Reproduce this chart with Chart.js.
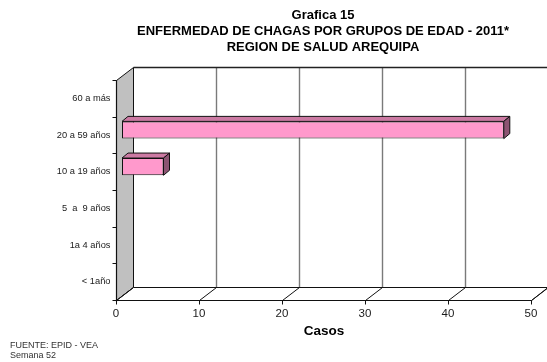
<!DOCTYPE html>
<html>
<head>
<meta charset="utf-8">
<title>Grafica 15</title>
<script src="https://cdn.jsdelivr.net/npm/chart.js@4"></script>
<style>
  html, body { margin:0; padding:0; background:#fff; }
  canvas { display:block; }
</style>
</head>
<body>
<canvas id="chart" width="547" height="362"></canvas>
<script>
/* ==== Data ==== */
const GROUPS = ['60 a más', '20 a 59 años', '10 a 19 años', '5  a  9 años', '1a 4 años', '< 1año'];
const CASES = [0, 46, 5, 0, 0, 0];
const X_TICKS = [0, 10, 20, 30, 40, 50];
const TITLE_LINES = ['Grafica 15', 'ENFERMEDAD DE CHAGAS POR GRUPOS DE EDAD - 2011*', 'REGION DE SALUD AREQUIPA'];
const X_TITLE = 'Casos';
const NOTES = ['FUENTE: EPID - VEA', 'Semana 52'];

/* ==== 3D look ==== */
const FONT = "'Liberation Sans', Arial, sans-serif";
const BACK = { dx: 11, dy: -8 };   // back wall relative to the bar plane
const FRONT = { dx: -6, dy: 5 };   // front axis relative to the bar plane
const BAR_DEPTH = { dx: 6, dy: -5 };
const BAR_FRONT = '#ff99cc', BAR_TOP = '#cc7aa3', BAR_SIDE = '#8c5472';

function poly(ctx, pts, fill, stroke){
  ctx.beginPath();
  ctx.moveTo(pts[0][0], pts[0][1]);
  for(let i=1;i<pts.length;i++) ctx.lineTo(pts[i][0], pts[i][1]);
  ctx.closePath();
  if(fill){ ctx.fillStyle = fill; ctx.fill(); }
  if(stroke){ ctx.strokeStyle = stroke; ctx.lineWidth = 1; ctx.stroke(); }
}
function line(ctx, x1, y1, x2, y2, color, w){
  ctx.beginPath(); ctx.moveTo(x1, y1); ctx.lineTo(x2, y2);
  ctx.strokeStyle = color; ctx.lineWidth = w || 1; ctx.stroke();
}

const box3d = {
  id: 'box3d',
  beforeDatasetsDraw(chart){
    const ctx = chart.ctx, ca = chart.chartArea, xs = chart.scales.x;
    const bl = ca.left + BACK.dx + 0.5, br = ca.right + BACK.dx, bt = ca.top + BACK.dy + 0.5, bb = ca.bottom + BACK.dy + 0.5;
    const fl = ca.left + FRONT.dx + 0.5, fr = ca.right + FRONT.dx + 0.5, ft = ca.top + FRONT.dy + 0.5, fb = ca.bottom + FRONT.dy + 0.5;
    ctx.save();

    // back wall and its gridlines
    poly(ctx, [[bl,bt],[br,bt],[br,bb],[bl,bb]], '#ffffff', null);
    X_TICKS.forEach(v => {
      if(v === 0) return;
      const gx = Math.round(xs.getPixelForValue(v) + BACK.dx) + 0.5;
      line(ctx, gx, bt, gx, bb, '#7a7a7a', 1.4);
    });
    line(ctx, bl, bt, br + 2, bt, '#222', 1.4);

    // left wall
    poly(ctx, [[bl,bt],[bl,bb],[fl,fb],[fl,ft]], '#c0c0c0', '#111');

    // floor
    poly(ctx, [[fl,fb],[fr,fb],[br,bb],[bl,bb]], '#ffffff', '#111');
    X_TICKS.forEach(v => {
      const px = xs.getPixelForValue(v);
      line(ctx, Math.round(px + FRONT.dx) + 0.5, fb, Math.round(px + BACK.dx) + 0.5, bb, '#111');
    });

    // front axes with tick marks
    line(ctx, fl, ft, fl, fb + 1, '#111', 1.2);
    line(ctx, fl - 1, fb, fr, fb, '#111', 1.2);
    const ys = chart.scales.y, step = (ca.bottom - ca.top) / GROUPS.length;
    for(let i=0;i<=GROUPS.length;i++){
      const ty = Math.round(ca.top + i*step + FRONT.dy) + 0.5;
      line(ctx, fl - 4, ty, fl, ty, '#111');
    }
    X_TICKS.forEach(v => {
      const tx = Math.round(xs.getPixelForValue(v) + FRONT.dx) + 0.5;
      line(ctx, tx, fb, tx, fb + 4, '#111');
    });

    // category labels
    ctx.font = '9.3px ' + FONT; ctx.fillStyle = '#1a1a1a';
    ctx.textAlign = 'right'; ctx.textBaseline = 'middle';
    GROUPS.forEach((g, i) => ctx.fillText(g, fl - 6, ys.getPixelForValue(i) + FRONT.dy));

    // value labels
    ctx.font = '11.5px ' + FONT; ctx.textAlign = 'center'; ctx.textBaseline = 'middle';
    X_TICKS.forEach(v => ctx.fillText(String(v), xs.getPixelForValue(v) + FRONT.dx, fb + 13));

    // axis title
    ctx.font = 'bold 13.5px ' + FONT; ctx.fillStyle = '#000';
    ctx.fillText(X_TITLE, (fl + fr) / 2, fb + 31);

    // chart title
    ctx.font = 'bold 13px ' + FONT;
    TITLE_LINES.forEach((t, i) => ctx.fillText(t, 323, 15 + i*16));

    // source notes
    ctx.font = '9px ' + FONT; ctx.fillStyle = '#333'; ctx.textAlign = 'left';
    NOTES.forEach((t, i) => ctx.fillText(t, 10, 346 + i*10));
    ctx.restore();
  },
  afterDatasetsDraw(chart){
    const ctx = chart.ctx;
    const meta = chart.getDatasetMeta(0);
    ctx.save();
    meta.data.forEach((bar, i) => {
      if(!CASES[i]) return;
      const p = bar.getProps(['x','y','base','height'], true);
      const x0 = p.base, x1 = p.x, y0 = p.y - p.height/2, y1 = p.y + p.height/2;
      const dx = BAR_DEPTH.dx, dy = BAR_DEPTH.dy;
      poly(ctx, [[x0,y0],[x1,y0],[x1+dx,y0+dy],[x0+dx,y0+dy]], BAR_TOP, '#111');
      poly(ctx, [[x1,y0],[x1+dx,y0+dy],[x1+dx,y1+dy],[x1,y1]], BAR_SIDE, '#111');
    });
    ctx.restore();
  }
};

/* ==== Chart ==== */
const ctx = document.getElementById('chart').getContext('2d');
new Chart(ctx, {
  type: 'bar',
  data: {
    labels: GROUPS,
    datasets: [{
      data: CASES,
      backgroundColor: BAR_FRONT,
      borderColor: '#111',
      borderWidth: 1,
      borderSkipped: false,
      categoryPercentage: 1,
      barPercentage: 0.47
    }]
  },
  options: {
    indexAxis: 'y',
    responsive: false,
    animation: false,
    devicePixelRatio: 1,
    layout: { padding: { left: 122, right: 10, top: 75, bottom: 67 } },
    scales: {
      x: { display: false, min: 0, max: 50 },
      y: { display: false }
    },
    plugins: { legend: { display: false }, tooltip: { enabled: false } }
  },
  plugins: [box3d]
});
</script>
</body>
</html>
